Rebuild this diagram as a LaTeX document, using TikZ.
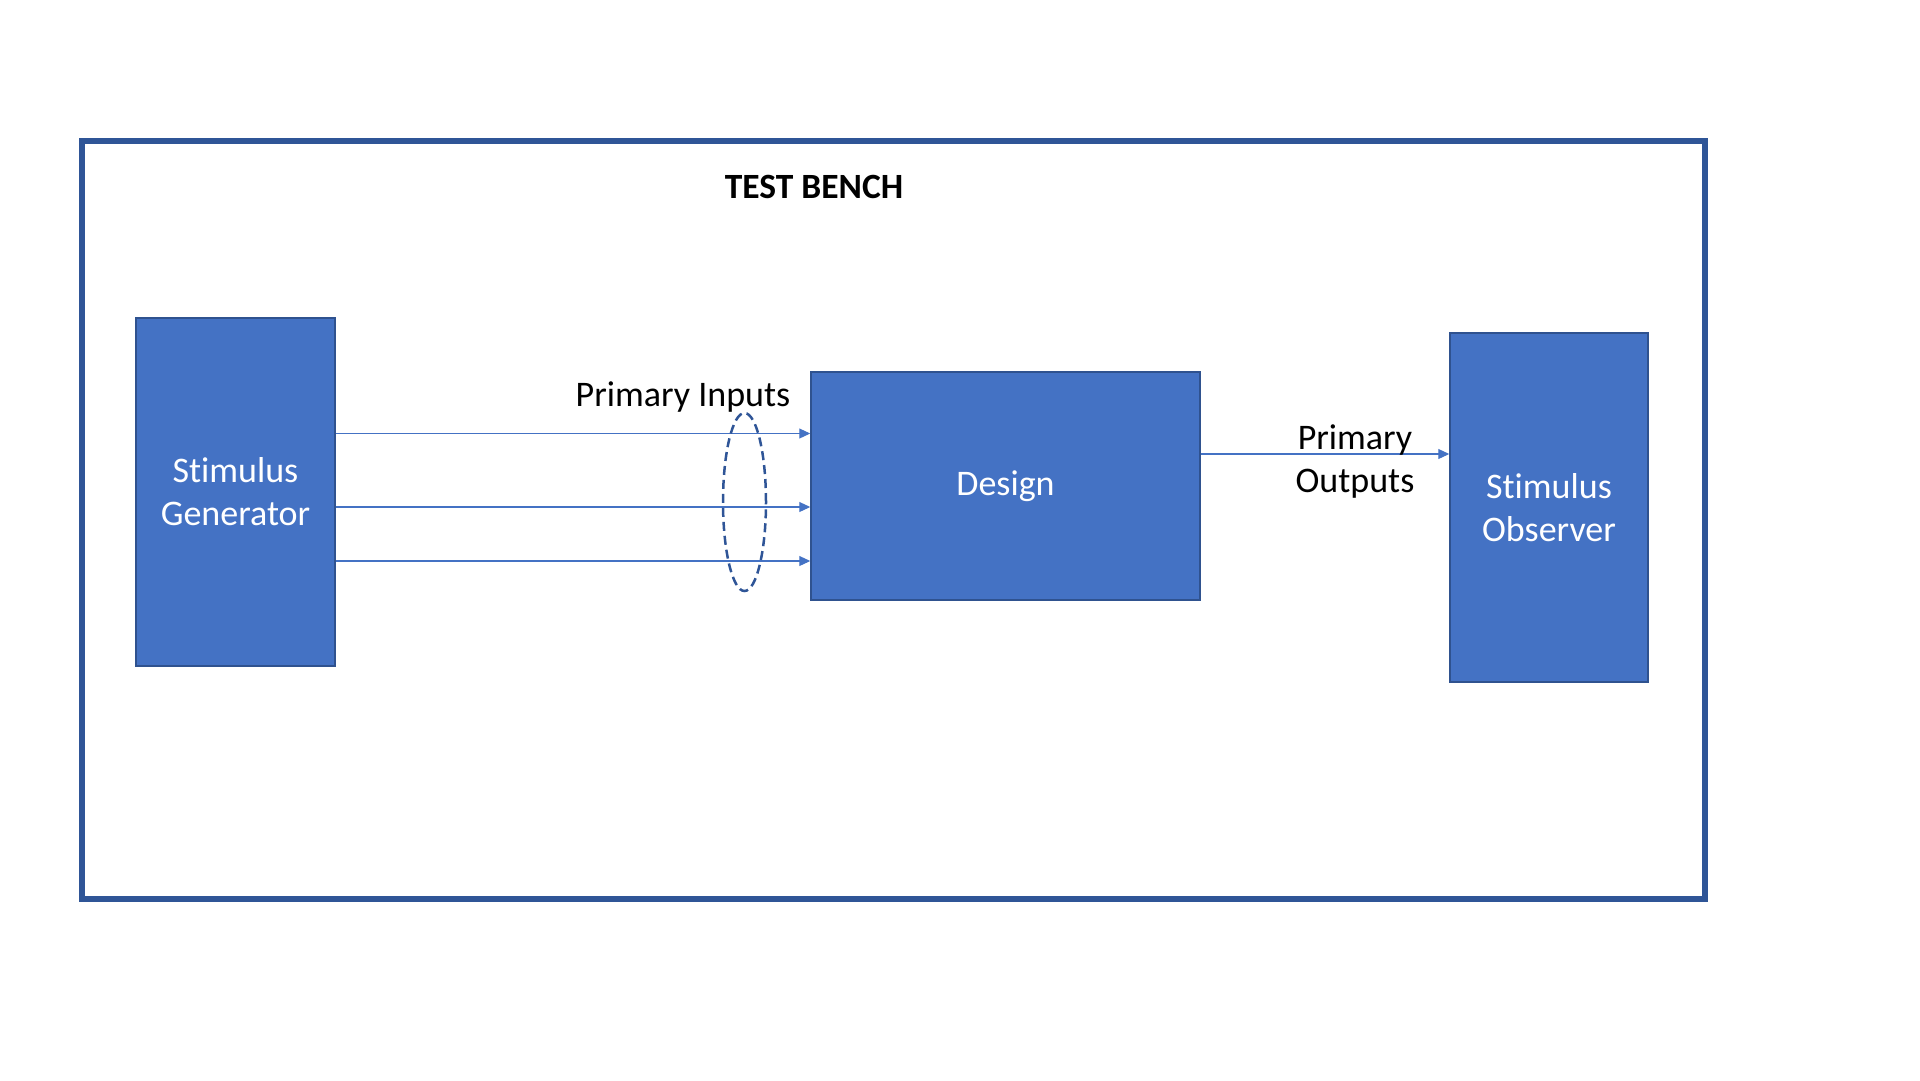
\documentclass[tikz,border=0pt]{standalone}
\usepackage{fontspec}
\setmainfont[Ligatures=NoCommon]{Carlito}
\usetikzlibrary{positioning, arrows.meta, shapes.geometric, calc}
\usepackage{xcolor}

\definecolor{boxblue}{HTML}{4472C4}
\definecolor{edgeblue}{HTML}{2F528F}
\definecolor{frameblue}{HTML}{2F5597}

\begin{document}
\begin{tikzpicture}[x=1pt, y=-1pt,
  every node/.style={font=\fontsize{36}{43}\selectfont},
  block/.style={draw=edgeblue, line width=1.5pt, fill=boxblue, text=white, align=center, inner sep=0pt},
  sig/.style={draw=boxblue, line width=1.1pt, -{Triangle[length=11pt, width=10pt]}},
]
\useasboundingbox (0,0) rectangle (1920,1080);
\draw[frameblue, line width=6pt] (82,141) rectangle (1705,899);
\node[font=\bfseries\fontsize{35.5}{40}\selectfont] (title) at (814,187) {TEST BENCH};

% blocks
\node[block, minimum width=199pt, minimum height=348pt] (gen) at (235.5,492) {Stimulus\\Generator};
\node[block, minimum width=389pt, minimum height=228pt] (design) at (1005.5,486) {\raisebox{-3pt}{Design}};
\node[block, minimum width=198pt, minimum height=349pt] (obs) at (1549,507.5) {Stimulus\\Observer};

% signals
\coordinate (in1) at (0,433.5);
\coordinate (in2) at (0,507);
\coordinate (in3) at (0,561);
\coordinate (out) at (0,454);
\foreach \c in {in1,in2,in3}
  \draw[sig] (gen.east |- \c) -- (design.west |- \c);
\draw[sig] (design.east |- out) -- (obs.west |- out);

\node[draw=frameblue, dashed, dash pattern=on 9pt off 5pt, ellipse, line width=2.5pt,
  minimum width=43pt, minimum height=178pt, inner sep=0pt] (bundle) at (744.5,502) {};
\node (inlabel) at (683,397) {Primary Inputs};
\node[align=center] (outlabel) at (1355,462) {Primary\\Outputs};
\end{tikzpicture}
\end{document}
